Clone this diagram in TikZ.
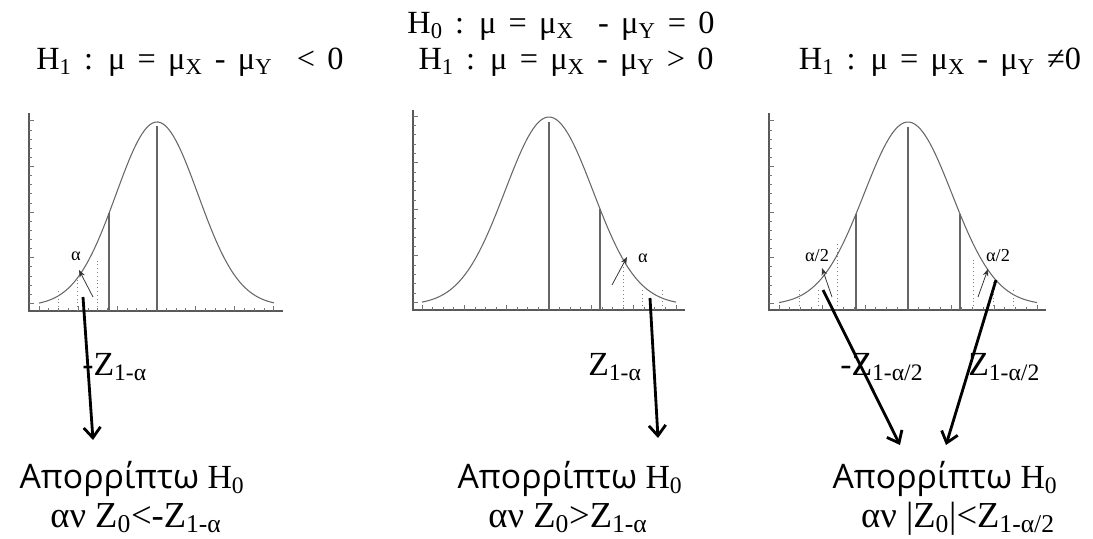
\documentclass[tikz,border=0pt]{standalone}
\usepackage{fontspec}
\setmainfont{Liberation Serif}
\newfontfamily\greekfont{Open Sans}
\usetikzlibrary{arrows.meta,positioning}
\newcommand\hypfont{\fontsize{23}{27}\selectfont\spaceskip=0.38em plus 0.1em\relax}
\tikzset{
  axisline/.style={draw=black!65, line width=0.75pt},
  tickline/.style={draw=black!55, line width=0.45pt},
  bellline/.style={draw=black!60, line width=0.75pt},
  critline/.style={draw=black!60, line width=0.8pt},
  dotline/.style={draw=black!50, line width=0.7pt, dotted},
  tailedge/.style={-{Stealth[length=1.8mm, width=1.4mm]}, draw=black!80, line width=0.55pt},
  rejectedge/.style={-{Straight Barb[length=2.6mm, width=4.2mm]}, draw=black, line width=2pt},
  hyptext/.style={font=\hypfont, inner sep=0pt, anchor=base},
  zlabel/.style={font=\fontsize{24}{28}\selectfont, inner sep=0pt, anchor=base west},
  alphalabel/.style={font=\fontsize{13}{15}\selectfont, inner sep=0pt},
  rejecttext/.style={font=\fontsize{24}{28}\selectfont, inner sep=0pt, anchor=base},
  condtext/.style={font=\fontsize{26}{30}\selectfont, inner sep=0pt, anchor=base},
}

\begin{document}
\begin{tikzpicture}[x=0.025cm, y=-0.025cm,
  declare function={bellA(\t)=306-184*exp(-((\t-157)/10)^2/33.62);
    bellB(\t)=305-188*exp(-((\t-549)/10)^2/38.72);
    bellC(\t)=305-183*exp(-((\t-908)/10)^2/38.72);}]
  \useasboundingbox (0,0) rectangle (1093,539);
  % hypotheses
  \node[hyptext] (h0) at (561,33) {H\textsubscript{0} : μ = μ\textsubscript{X}\ \ - μ\textsubscript{Y} = 0};
  \node[hyptext] (h1A) at (190,69) {H\textsubscript{1} : μ = μ\textsubscript{X} - μ\textsubscript{Y}\ \ < 0};
  \node[hyptext] (h1B) at (566,69) {H\textsubscript{1} : μ = μ\textsubscript{X} - μ\textsubscript{Y} > 0};
  \node[hyptext] (h1C) at (940,69) {H\textsubscript{1} : μ = μ\textsubscript{X} - μ\textsubscript{Y} ≠0};
  % axes and ticks
  \draw[axisline] (29,113) |- (283,311);
  \draw[axisline] (413,110) |- (685,310);
  \draw[axisline] (769,113) |- (1046,310);
  \foreach \ax/\ay/\yt/\ydy/\xt/\xdx in {29/311/120.7/9.13/39/9.78, 413/310/116/9.32/422/10.58, 769/310/120.7/9.13/779/10.75} {
    \foreach \k in {0,...,20} \draw[tickline] (\ax,{\yt+\ydy*\k}) -- ++(3,0);
    \foreach \k in {0,5,...,20} \draw[tickline] (\ax,{\yt+\ydy*\k}) -- ++(5,0);
    \foreach \k in {0,...,24} \draw[tickline] ({\xt+\xdx*\k},\ay) -- ++(0,-3);
    \foreach \k in {0,4,...,24} \draw[tickline] ({\xt+\xdx*\k},\ay) -- ++(0,-5);
  }
  % curves
  \draw[bellline] plot[domain=39:274, samples=90] (\x,{bellA(\x)});
  \draw[bellline] plot[domain=422:676, samples=90] (\x,{bellB(\x)});
  \draw[bellline] plot[domain=779:1037, samples=90] (\x,{bellC(\x)});
  \draw[critline] (157,311) -- (157,126);
  \draw[critline] (109,311) -- (109,{bellA(109)});
  \draw[critline] (549,310) -- (549,122);
  \draw[critline] (600,310) -- (600,{bellB(600)});
  \draw[critline] (908,310) -- (908,127);
  \draw[critline] (856,310) -- (856,{bellC(856)});
  \draw[critline] (960,310) -- (960,{bellC(960)});
  \draw[dotline] (58,311) -- (58,290);
  \draw[dotline] (77,311) -- (77,277);
  \draw[dotline] (97,311) -- (97,258);
  \draw[dotline] (623,310) -- (623,267);
  \draw[dotline] (642,310) -- (642,290);
  \draw[dotline] (662,310) -- (662,290);
  \draw[dotline] (799,310) -- (799,290);
  \draw[dotline] (818,310) -- (818,289);
  \draw[dotline] (837,310) -- (837,243);
  \draw[dotline] (973,310) -- (973,258);
  \draw[dotline] (993,310) -- (993,280);
  \draw[dotline] (1013,310) -- (1013,290);
  % tail areas
  \node[alphalabel] (aA) at (76,256) {α};
  \node[alphalabel] (aB) at (643,258) {α};
  \node[alphalabel] (aC) at (817,256) {α/2};
  \node[alphalabel] (aD) at (998,256) {α/2};
  \coordinate (tA0) at (93,297);  \coordinate (tA1) at (79,270);
  \coordinate (tB0) at (612,285); \coordinate (tB1) at (627,257);
  \coordinate (tC0) at (832,297); \coordinate (tC1) at (822,268);
  \coordinate (tD0) at (978,297); \coordinate (tD1) at (988,269);
  \draw[tailedge] (tA0) -- (tA1);
  \draw[tailedge] (tB0) -- (tB1);
  \draw[tailedge] (tC0) -- (tC1);
  \draw[tailedge] (tD0) -- (tD1);
  % critical values
  \node[zlabel] (zA) at (82,375) {-Z\textsubscript{1-α}};
  \node[zlabel] (zB) at (588,375) {Z\textsubscript{1-α}};
  \node[zlabel] (zC) at (840,375) {-Z\textsubscript{1-α/2}};
  \node[zlabel] (zD) at (968,375) {Z\textsubscript{1-α/2}};
  % decisions
  \node[rejecttext] (rejA) at (132,488) {{\greekfont Απορρίπτω} H\textsubscript{0}};
  \node[condtext] (condA) at (136,527) {αν Z\textsubscript{0}<-Z\textsubscript{1-α}};
  \node[rejecttext] (rejB) at (570,488) {{\greekfont Απορρίπτω} H\textsubscript{0}};
  \node[condtext] (condB) at (568,527) {αν Z\textsubscript{0}>Z\textsubscript{1-α}};
  \node[rejecttext] (rejC) at (945,488) {{\greekfont Απορρίπτω} H\textsubscript{0}};
  \node[condtext] (condC) at (958,527) {αν |Z\textsubscript{0}|<Z\textsubscript{1-α/2}};
  \coordinate (sA) at (83,297);  \coordinate (pA) at (93,440);
  \coordinate (sB) at (650,298); \coordinate (pB) at (658,438);
  \coordinate (sC) at (823,290); \coordinate (pC) at (900,445);
  \coordinate (sD) at (996,280); \coordinate (pD) at (946,445);
  \draw[rejectedge] (sA) -- (pA);
  \draw[rejectedge] (sB) -- (pB);
  \draw[rejectedge] (sC) -- (pC);
  \draw[rejectedge] (sD) -- (pD);
\end{tikzpicture}
\end{document}
